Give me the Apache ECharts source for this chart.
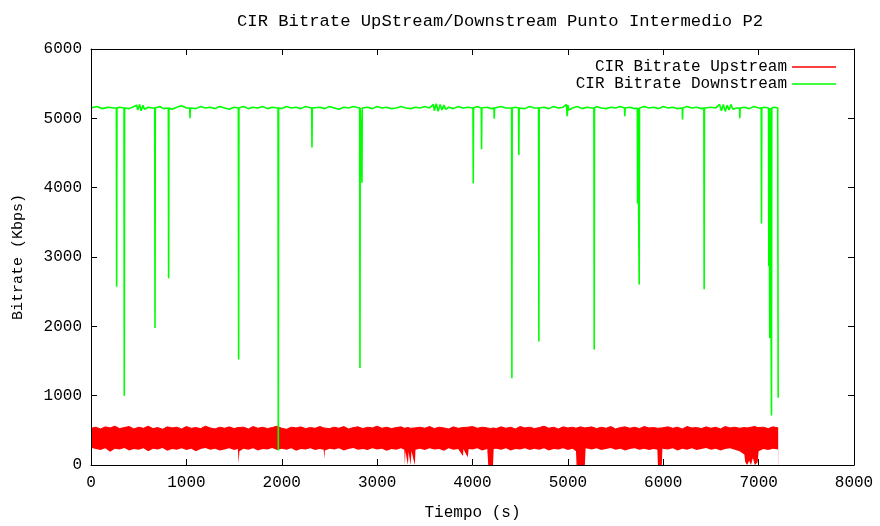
<!DOCTYPE html>
<html>
<head>
<meta charset="utf-8">
<title>CIR Bitrate</title>
<script src="https://cdn.jsdelivr.net/npm/echarts@6/dist/echarts.min.js"></script>
<style>
    html, body { margin: 0; padding: 0; background: #fff; }
    #chart { width: 880px; height: 526px; }
</style>
</head>
<body>
<div id="chart"></div>
<script>
// ejes
const xTicks = [0, 1000, 2000, 3000, 4000, 5000, 6000, 7000, 8000];
const yTicks = [0, 1000, 2000, 3000, 4000, 5000, 6000];
const seriesNames = ['CIR Bitrate Upstream', 'CIR Bitrate Downstream'];

// upstream: [tiempo, minimo, maximo] de la banda roja
const upstream = [
    [0, 250, 530], [50, 230, 545], [100, 215, 520], [150, 240, 550], [200, 190, 535],
    [250, 235, 560], [300, 225, 525], [350, 245, 540], [400, 210, 555], [450, 230, 520],
    [500, 220, 545], [550, 240, 530], [600, 200, 560], [650, 235, 525], [700, 225, 540],
    [750, 245, 515], [800, 205, 550], [850, 230, 535], [900, 220, 545], [950, 240, 520],
    [1000, 215, 555], [1050, 235, 530], [1100, 200, 540], [1150, 230, 525], [1200, 245, 560],
    [1250, 220, 535], [1300, 235, 520], [1350, 210, 545], [1400, 225, 530], [1450, 240, 550],
    [1500, 215, 525], [1540, 230, 540], [1548, 30, 540], [1556, 200, 530], [1600, 235, 545],
    [1650, 220, 520], [1700, 240, 555], [1750, 210, 530], [1800, 230, 545], [1850, 225, 525],
    [1900, 245, 540], [1950, 215, 560], [2000, 235, 530], [2050, 220, 515], [2100, 240, 545],
    [2150, 205, 535], [2200, 230, 550], [2250, 225, 525], [2300, 240, 540], [2350, 215, 530],
    [2400, 230, 555], [2440, 220, 535], [2446, 90, 530], [2452, 210, 540], [2500, 235, 525],
    [2550, 225, 545], [2600, 240, 530], [2650, 210, 555], [2700, 230, 520], [2750, 245, 540],
    [2800, 220, 550], [2850, 230, 525], [2900, 215, 545], [2950, 240, 535], [3000, 225, 560],
    [3050, 235, 530], [3100, 205, 545], [3150, 230, 525], [3200, 220, 540], [3250, 240, 550],
    [3285, 220, 530], [3291, 0, 535], [3297, 200, 545], [3323, 0, 540], [3330, 190, 525],
    [3351, 0, 530], [3360, 200, 545], [3396, 0, 535], [3402, 220, 540], [3450, 235, 545],
    [3500, 215, 530], [3550, 240, 555], [3600, 225, 525], [3650, 230, 545], [3700, 205, 535],
    [3750, 240, 520], [3800, 220, 550], [3850, 230, 530], [3900, 130, 540], [3905, 230, 535],
    [3950, 110, 545], [3960, 230, 525], [4000, 225, 555], [4050, 240, 530], [4100, 210, 545],
    [4155, 230, 535], [4165, 0, 540], [4190, 0, 525], [4215, 0, 535], [4222, 230, 540],
    [4250, 235, 525], [4300, 220, 550], [4350, 240, 530], [4400, 210, 545], [4450, 230, 520],
    [4500, 225, 555], [4550, 240, 535], [4600, 215, 545], [4650, 235, 525], [4700, 220, 540],
    [4750, 240, 560], [4800, 210, 530], [4850, 230, 545], [4900, 225, 520], [4950, 240, 550],
    [5000, 215, 535], [5050, 235, 545], [5085, 200, 530], [5091, 0, 540], [5130, 0, 550],
    [5178, 0, 535], [5186, 240, 530], [5250, 225, 550], [5300, 240, 525], [5350, 215, 545],
    [5400, 230, 530], [5450, 245, 555], [5500, 220, 520], [5550, 235, 540], [5600, 210, 550],
    [5650, 230, 530], [5700, 240, 545], [5750, 220, 525], [5800, 235, 555], [5850, 215, 535],
    [5900, 230, 540], [5938, 220, 530], [5944, 0, 545], [5985, 0, 535], [5991, 235, 525],
    [6050, 225, 550], [6100, 240, 530], [6150, 210, 545], [6200, 235, 520], [6250, 220, 555],
    [6300, 240, 535], [6350, 215, 540], [6400, 230, 525], [6450, 245, 550], [6500, 220, 530],
    [6550, 235, 545], [6600, 210, 520], [6650, 230, 555], [6700, 240, 535], [6750, 220, 545],
    [6800, 200, 530], [6850, 150, 540], [6860, 40, 550], [6880, 0, 535], [6900, 60, 525],
    [6920, 0, 545], [6940, 100, 530], [6960, 0, 555], [6990, 40, 540], [7000, 200, 530],
    [7050, 230, 545], [7100, 215, 525], [7150, 235, 550], [7205, 225, 535]
];

// downstream: [tiempo, kbps]
const downstream = [
    [0, 5150], [60, 5170], [120, 5140], [180, 5160], [240, 5150],
    [266, 5150], [269, 2570], [272, 5150], [300, 5160],
    [346, 5150], [349, 1000], [352, 5150],
    [400, 5140], [450, 5170], [480, 5190], [490, 5120], [510, 5200], [525, 5110],
    [545, 5190], [560, 5130], [600, 5160], [640, 5150],
    [668, 5150], [671, 1975], [674, 5150], [720, 5170], [760, 5140],
    [811, 5150], [814, 2695], [817, 5150],
    [850, 5130], [900, 5160], [950, 5180], [1000, 5150],
    [1035, 5150], [1038, 5000], [1041, 5150],
    [1100, 5140], [1150, 5170], [1200, 5150], [1250, 5160], [1300, 5140],
    [1350, 5170], [1400, 5150], [1450, 5130], [1500, 5160],
    [1545, 5150], [1548, 1520], [1551, 5150],
    [1600, 5170], [1650, 5140], [1700, 5160], [1750, 5150], [1800, 5170], [1850, 5140], [1900, 5160],
    [1961, 5150], [1964, 210], [1967, 5150],
    [2000, 5140], [2050, 5170], [2100, 5150], [2150, 5160], [2200, 5140], [2250, 5170],
    [2314, 5150], [2317, 4580], [2320, 5150],
    [2400, 5160], [2450, 5140], [2500, 5170], [2550, 5150], [2600, 5130], [2650, 5160],
    [2700, 5150], [2750, 5170],
    [2817, 5150], [2820, 1400], [2823, 5150], [2838, 5150], [2841, 4070], [2844, 5150],
    [2900, 5160], [2950, 5140], [3000, 5170], [3050, 5150], [3100, 5160], [3150, 5140],
    [3200, 5150], [3250, 5170], [3300, 5150], [3350, 5140], [3400, 5160], [3450, 5150],
    [3500, 5170], [3550, 5150],
    [3590, 5200], [3600, 5110], [3620, 5210], [3640, 5100], [3660, 5200], [3680, 5120],
    [3700, 5190], [3720, 5130], [3750, 5160],
    [3800, 5140], [3850, 5170], [3900, 5150], [3950, 5160],
    [4005, 5150], [4008, 4065], [4011, 5150], [4050, 5170],
    [4092, 5150], [4095, 4555], [4098, 5150], [4150, 5160], [4200, 5140],
    [4225, 5150], [4228, 4995], [4231, 5150], [4300, 5170], [4350, 5150],
    [4410, 5150], [4413, 1250], [4416, 5150], [4450, 5160],
    [4483, 5150], [4486, 4470], [4489, 5150],
    [4550, 5140], [4600, 5170], [4650, 5150],
    [4693, 5150], [4696, 1780], [4699, 5150],
    [4750, 5160], [4800, 5140], [4850, 5170], [4900, 5150], [4950, 5160],
    [4985, 5200], [4993, 5030], [5000, 5190], [5010, 5120],
    [5050, 5150], [5100, 5170], [5150, 5140], [5200, 5160], [5250, 5150],
    [5273, 5150], [5276, 1665], [5279, 5150],
    [5300, 5170], [5350, 5150], [5400, 5140], [5450, 5160], [5500, 5150], [5550, 5170],
    [5594, 5150], [5597, 5030], [5600, 5150], [5650, 5160], [5700, 5140],
    [5728, 5150], [5731, 3770], [5734, 5150], [5745, 5150], [5748, 2605], [5751, 5150],
    [5800, 5170], [5850, 5150], [5900, 5160], [5950, 5140], [6000, 5170], [6050, 5150],
    [6100, 5160], [6150, 5140],
    [6199, 5150], [6202, 4985], [6205, 5150],
    [6250, 5170], [6300, 5150], [6350, 5160], [6400, 5140],
    [6426, 5150], [6429, 2535], [6432, 5150],
    [6500, 5160], [6550, 5150],
    [6590, 5200], [6610, 5110], [6630, 5200], [6650, 5100], [6670, 5190], [6690, 5120],
    [6710, 5200], [6730, 5130], [6770, 5150],
    [6800, 5150], [6803, 5000], [6806, 5150],
    [6850, 5160], [6900, 5140], [6950, 5170], [7000, 5150],
    [7027, 5150], [7030, 3485], [7033, 5150], [7060, 5160],
    [7104, 5150], [7107, 2865], [7110, 5150], [7114, 5150], [7117, 1830], [7120, 5150],
    [7132, 5150], [7135, 715], [7138, 5150],
    [7170, 5160], [7200, 5150], [7205, 970]
];

const FONT = 'Liberation Mono';
const RED = '#ff0000';
const GREEN = '#00ff00';

const myChart = echarts.init(document.getElementById('chart'));

// eje con ticks hacia dentro (estilo gnuplot), por encima de las series
function axisBase(extra) {
    return Object.assign({
        type: 'value',
        z: 5,
        axisLine: { show: true, onZero: false, lineStyle: { color: '#000', width: 1 } },
        axisTick: { show: true, inside: true, length: 6, lineStyle: { color: '#000' } },
        splitLine: { show: false },
        axisLabel: { show: false }
    }, extra);
}

const tickLabel = {
    show: true, color: '#000', fontFamily: FONT, fontSize: 16,
    formatter: v => String(v)
};

myChart.setOption({
    animation: false,
    backgroundColor: '#fff',
    title: {
        text: 'CIR Bitrate UpStream/Downstream Punto Intermedio P2',
        left: 237,
        top: 13,
        padding: 0,
        textStyle: { fontFamily: FONT, fontSize: 17.2, fontWeight: 'normal', color: '#000' }
    },
    legend: {
        data: seriesNames,
        orient: 'vertical',
        right: 39,
        top: 54,
        align: 'right',
        icon: 'rect',
        itemWidth: 44,
        itemHeight: 1.5,
        itemGap: 1,
        selectedMode: false,
        textStyle: { fontFamily: FONT, fontSize: 16, color: '#000' }
    },
    grid: { left: 91, right: 26, top: 49, bottom: 57, show: false },
    xAxis: [
        axisBase({
            min: xTicks[0], max: xTicks[xTicks.length - 1], interval: 1000,
            position: 'bottom',
            axisLabel: Object.assign({ margin: 10 }, tickLabel),
            name: 'Tiempo (s)', nameLocation: 'middle', nameGap: 40,
            nameTextStyle: { fontFamily: FONT, fontSize: 16, color: '#000' }
        }),
        axisBase({ min: xTicks[0], max: xTicks[xTicks.length - 1], interval: 1000, position: 'top' })
    ],
    yAxis: [
        axisBase({
            min: yTicks[0], max: yTicks[yTicks.length - 1], interval: 1000,
            position: 'left',
            axisLabel: Object.assign({ margin: 9 }, tickLabel),
            name: 'Bitrate (Kbps)', nameLocation: 'middle', nameGap: 65,
            nameTextStyle: { fontFamily: FONT, fontSize: 15, color: '#000' }
        }),
        axisBase({ min: yTicks[0], max: yTicks[yTicks.length - 1], interval: 1000, position: 'right' })
    ],
    series: [
        {
            // banda roja: relleno desde 0 hasta el maximo
            name: seriesNames[0],
            type: 'line',
            symbol: 'none',
            itemStyle: { color: RED },
            lineStyle: { color: RED, width: 1 },
            areaStyle: { color: RED, opacity: 1, origin: 'start' },
            data: upstream.map(d => [d[0], d[2]])
        },
        {
            // parte baja de la banda, tapada en blanco
            name: 'upLow',
            type: 'line',
            symbol: 'none',
            silent: true,
            lineStyle: { width: 0, opacity: 0 },
            areaStyle: { color: '#fff', opacity: 1, origin: 'start' },
            data: upstream.map(d => [d[0], d[1]])
        },
        {
            name: seriesNames[1],
            type: 'line',
            symbol: 'none',
            itemStyle: { color: GREEN },
            lineStyle: { color: GREEN, width: 1.6 },
            data: downstream
        }
    ]
});
window.onresize = myChart.resize;
</script>
</body>
</html>
